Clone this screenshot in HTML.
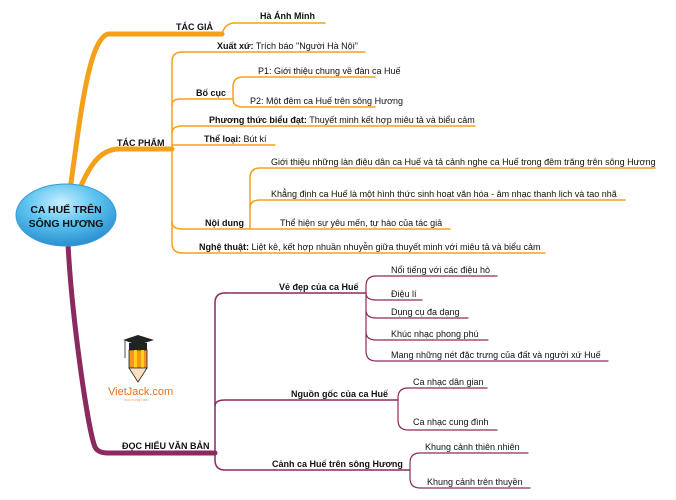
<!DOCTYPE html>
<html><head><meta charset="utf-8"><style>
html,body{margin:0;padding:0;background:#fff;width:676px;height:500px;overflow:hidden}
svg{display:block}
text{font-family:"Liberation Sans",sans-serif;font-size:9px;fill:#111}
.b{font-weight:bold}
</style></head><body>
<svg width="676" height="500" viewBox="0 0 676 500">
<defs>
<radialGradient id="g" cx="45%" cy="30%" r="70%">
<stop offset="0" stop-color="#c9efff"/><stop offset="0.5" stop-color="#5cc4f0"/><stop offset="1" stop-color="#2a8fcf"/>
</radialGradient>
</defs>
<g fill="none" stroke="#f5a01a" stroke-linecap="round">
<!-- TAC GIA -->
<path d="M70 190 C 80 120, 88 40, 108 34 L 222 34" stroke-width="5"/>
<path d="M222 34 Q 225 23 235 23 L 325 23" stroke-width="1.5"/>
<!-- TAC PHAM -->
<path d="M80 188 C 90 165, 100 150, 118 149 L 172 149" stroke-width="5"/>
<path d="M182 52 Q 172 52 172 62 L 172 243 Q 172 253 182 253" stroke-width="1.5"/>
<path d="M182 52 L 365 52" stroke-width="1.5"/>
<path d="M172 105 Q 172 99 180 99 L 233 99" stroke-width="1.5"/>
<path d="M243 77 Q 233 77 233 87 L 233 99 L 233 99 Q 233 107 243 107 L 375 107 M243 77 L375 77" stroke-width="1.5"/>
<path d="M172 133 Q 172 126 182 126 L 475 126" stroke-width="1.5"/>
<path d="M172 145 L 275 145" stroke-width="1.5"/>
<path d="M172 222 Q 172 229 182 229 L 250 229" stroke-width="1.5"/>
<path d="M260 168 Q 250 168 250 178 L 250 229 M250 208 Q 250 200 260 200 L 625 200 M260 168 L 655 168 M250 229 L 450 229" stroke-width="1.5"/>
<path d="M182 253 L 545 253" stroke-width="1.5"/>
</g>
<g fill="none" stroke="#8b2a5e" stroke-linecap="round">
<path d="M68 244 C 72 320, 88 430, 95 447 Q 98 453 108 453 L 215 453" stroke-width="5"/>
<path d="M225 293 Q 215 293 215 303 L 215 460 Q 215 470 225 470 L 410 470" stroke-width="1.5"/>
<path d="M225 293 L 366 293" stroke-width="1.5"/>
<path d="M215 406 Q 215 400 225 400 L 398 400" stroke-width="1.5"/>
<path d="M376 276 Q 366 276 366 286 L 366 351 Q 366 361 376 361 L 608 361 M376 276 L 497 276 M366 293 Q 366 300 376 300 L 422 300 M366 310 Q 366 318 376 318 L 468 318 M366 332 Q 366 340 376 340 L 488 340" stroke-width="1.2"/>
<path d="M408 388 Q 398 388 398 398 L 398 420 Q 398 430 408 430 L 497 430 M408 388 L 487 388" stroke-width="1.2"/>
<path d="M420 453 Q 410 453 410 463 L 410 478 Q 410 488 420 488 L 530 488 M420 453 L 528 453" stroke-width="1.2"/>
</g>
<ellipse cx="66" cy="215" rx="50" ry="31" fill="url(#g)" stroke="#3b9ad8" stroke-width="1"/>
<text x="66" y="213" text-anchor="middle" class="b" style="font-size:10.5px">CA HUẾ TRÊN</text>
<text x="66" y="227" text-anchor="middle" class="b" style="font-size:10.5px">SÔNG HƯƠNG</text>

<text x="176" y="30" class="b">TÁC GIẢ</text>
<text x="260" y="19" class="b">Hà Ánh Minh</text>
<text x="117" y="146" class="b">TÁC PHẨM</text>
<text x="217" y="49"><tspan class="b">Xuất xứ:</tspan> Trích báo "Người Hà Nội"</text>
<text x="196" y="96" class="b">Bố cục</text>
<text x="258" y="74">P1: Giới thiệu chung về đàn ca Huế</text>
<text x="250" y="104">P2: Một đêm ca Huế trên sông Hương</text>
<text x="209" y="123"><tspan class="b">Phương thức biểu đạt:</tspan> Thuyết minh kết hợp miêu tả và biểu cảm</text>
<text x="204" y="142"><tspan class="b">Thể loại:</tspan> Bút kí</text>
<text x="205" y="226" class="b">Nội dung</text>
<text x="271" y="165">Giới thiệu những làn điệu dân ca Huế và tả cảnh nghe ca Huế trong đêm trăng trên sông Hương</text>
<text x="271" y="197">Khẳng định ca Huế là một hình thức sinh hoạt văn hóa - âm nhạc thanh lịch và tao nhã</text>
<text x="280" y="226">Thể hiện sự yêu mến, tự hào của tác giả</text>
<text x="199" y="250"><tspan class="b">Nghệ thuật:</tspan> Liệt kê, kết hợp nhuần nhuyễn giữa thuyết minh với miêu tả và biểu cảm</text>

<text x="122" y="449" class="b">ĐỌC HIỂU VĂN BẢN</text>
<text x="279" y="290" class="b">Vẻ đẹp của ca Huế</text>
<text x="391" y="273">Nổi tiếng với các điệu hò</text>
<text x="391" y="297">Điệu lí</text>
<text x="391" y="315">Dụng cụ đa dạng</text>
<text x="391" y="337">Khúc nhạc phong phú</text>
<text x="391" y="358">Mang những nét đặc trưng của đất và người xứ Huế</text>
<text x="291" y="397" class="b">Nguồn gốc của ca Huế</text>
<text x="413" y="385">Ca nhạc dân gian</text>
<text x="413" y="425">Ca nhạc cung đình</text>
<text x="272" y="467" class="b">Cảnh ca Huế trên sông Hương</text>
<text x="425" y="450">Khung cảnh thiên nhiên</text>
<text x="427" y="485">Khung cảnh trên thuyền</text>

<!-- logo -->
<g>
<polygon points="123,340 138,335 154,340 138,345" fill="#222"/>
<rect x="129" y="343" width="18" height="7" fill="#222"/>
<line x1="125" y1="341" x2="125" y2="358" stroke="#222" stroke-width="0.8"/>
<rect x="129" y="350" width="18" height="18" fill="#f7941d" stroke="#222" stroke-width="0.8"/>
<rect x="134" y="350" width="3" height="18" fill="#fcd116"/>
<rect x="141" y="350" width="3" height="18" fill="#fcd116"/>
<polygon points="129,368 147,368 138,382" fill="#fde0c0" stroke="#222" stroke-width="0.8"/>
<text x="108" y="395" style="font-size:11px;fill:#e8731c">VietJack.com</text>
<text x="124" y="401" style="font-size:4px;fill:#e8a060">học cùng bạn</text>
</g>
</svg>
</body></html>
